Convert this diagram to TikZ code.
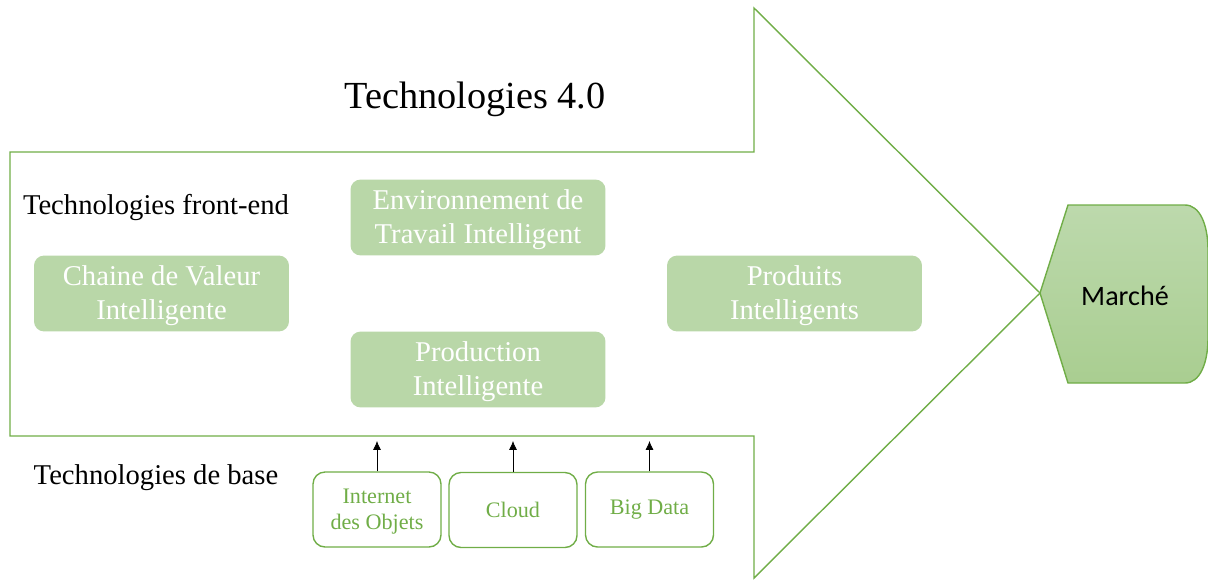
\documentclass[tikz,border=0pt]{standalone}
\usepackage{fontspec}
\setmainfont{Liberation Serif}
\newfontfamily\marchefont{Carlito}
\usepackage{tikz}
\usetikzlibrary{arrows.meta}
\usepackage{xcolor}
\definecolor{vert}{HTML}{70AD47}
\definecolor{vertclair}{HTML}{B9D7A8}

\begin{document}
\begin{tikzpicture}[x=0.02cm,y=-0.02cm,
  pleine/.style={fill=vertclair,rounded corners=0.2cm,text=white,align=center,
    minimum width=5.1cm,minimum height=1.48cm,font=\fontsize{16.3}{19.4}\selectfont},
  base/.style={draw=vert,line width=0.8pt,rounded corners=0.24cm,text=vert,align=center,
    minimum width=2.56cm,minimum height=1.5cm,font=\fontsize{12.6}{14.8}\selectfont},
  titre/.style={font=\fontsize{16.3}{19.4}\selectfont}]
  \useasboundingbox (0,0) rectangle (1208,579);
  % grande fleche
  \draw[vert,line width=0.8pt] (10,152)--(754,152)--(754,8)--(1040,293)--(754,578)--(754,436)--(10,436)--cycle;
  % marche
  \draw[vert,line width=0.8pt,top color=vertclair!95!white,bottom color=vert!60!white]
    (1040,293)--(1068,205)--(1185,205) .. controls (1200,205) and (1208,225) .. (1208,250)
    --(1208,338) .. controls (1208,363) and (1200,383) .. (1185,383)--(1068,383)--cycle;
  \node (marche) at (1125,296) {\marchefont\fontsize{16}{19}\selectfont Marché};

  \node[font=\fontsize{21.8}{26}\selectfont] (titre) at (475,99) {Technologies 4.0};
  \node[titre] (front) at (156,208) {Technologies front-end};
  \node[titre] (basetxt) at (156,478) {Technologies de base};

  \node[pleine] (chaine) at (161.5,293.5) {\strut Chaine de Valeur\\Intelligente};
  \node[pleine,minimum height=1.5cm] (env) at (478,217.5) {\strut Environnement de\\Travail Intelligent};
  \node[pleine,minimum height=1.5cm] (prod) at (478,369.5) {\strut Production\\Intelligente};
  \node[pleine] (produits) at (794.5,293.5) {\strut Produits\\Intelligents};

  \node[base] (iot) at (377,509.5) {\strut Internet\\des Objets};
  \node[base] (cloud) at (513,510) {Cloud};
  \node[base] (bigdata) at (649.5,509.5) {Big Data};

  \coordinate (fut) at (0,441);
  \draw[-{Latex[length=5pt,width=4.5pt]}] (iot.north) -- (iot.north |- fut);
  \draw[-{Latex[length=5pt,width=4.5pt]}] (cloud.north) -- (cloud.north |- fut);
  \draw[-{Latex[length=5pt,width=4.5pt]}] (bigdata.north) -- (bigdata.north |- fut);
\end{tikzpicture}
\end{document}
